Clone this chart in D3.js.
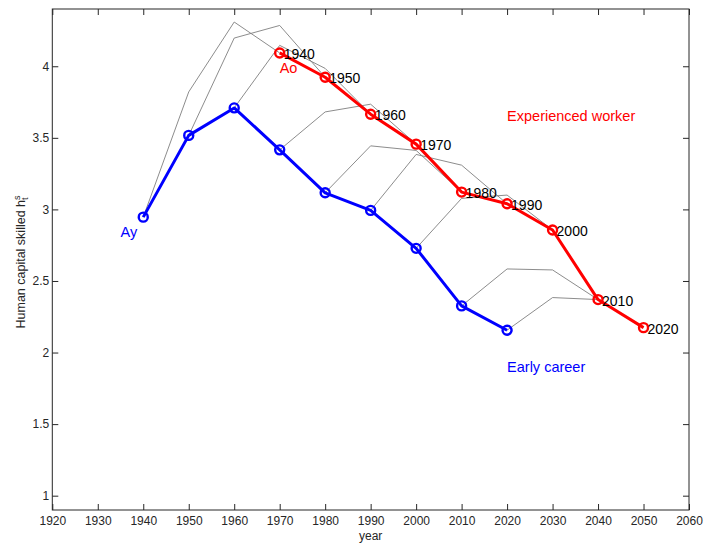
<!DOCTYPE html>
<html>
<head>
<meta charset="utf-8">
<script src="https://cdn.jsdelivr.net/npm/d3@7"></script>
<style>
  html, body { margin: 0; padding: 0; background: #fff; }
  svg { display: block; font-family: "Liberation Sans", Arial, Helvetica, sans-serif; }
</style>
</head>
<body>
<svg id="chart" width="717" height="547"></svg>
<script>
// ---- data ----
const youngYears  = [1940, 1950, 1960, 1970, 1980, 1990, 2000, 2010, 2020];
const youngValues = [2.946, 3.517, 3.709, 3.416, 3.116, 2.993, 2.728, 2.326, 2.156];
const oldYears    = [1970, 1980, 1990, 2000, 2010, 2020, 2030, 2040, 2050];
const oldValues   = [4.093, 3.923, 3.665, 3.456, 3.121, 3.039, 2.856, 2.370, 2.174];
const cohortLabels = ["1940", "1950", "1960", "1970", "1980", "1990", "2000", "2010", "2020"];
// cohort paths: value 10 and 20 years after entry (gray lines)
const midValues1 = [3.821, 4.197, 4.146, 3.681, 3.444, 3.384, 3.077, 2.584, 2.384];
const midValues2 = [4.309, 4.285, 3.985, 3.735, 3.412, 3.309, 3.100, 2.577, 2.370];
const xTicks = [1920, 1930, 1940, 1950, 1960, 1970, 1980, 1990, 2000, 2010, 2020, 2030, 2040, 2050, 2060];
const yTicks = [1, 1.5, 2, 2.5, 3, 3.5, 4];

// ---- layout ----
const L = 52.3, R = 689, T = 9, B = 510;
const axisColor = "#262626";
const svg = d3.select("#chart");
const x = d3.scaleLinear().domain([1920, 2060]).range([L, R]);
const y = d3.scaleLinear().domain([0.9, 4.4]).range([B, T]);

// axes
function styleAxis(g) {
  g.select(".domain").remove();
  g.selectAll(".tick line").attr("stroke", axisColor).attr("stroke-width", 1);
  g.selectAll(".tick text").attr("fill", axisColor).style("font-size", "12px")
    .style("font-family", '"Liberation Sans", Arial, sans-serif');
}
svg.append("g").attr("transform", `translate(0,${B})`)
  .call(d3.axisBottom(x).tickValues(xTicks).tickFormat(d3.format("d")).tickSizeInner(-6).tickSizeOuter(0).tickPadding(6.5))
  .call(styleAxis);
svg.append("g").attr("transform", `translate(0,${T})`)
  .call(d3.axisTop(x).tickValues(xTicks).tickFormat("").tickSizeInner(-6).tickSizeOuter(0))
  .call(styleAxis);
svg.append("g").attr("transform", `translate(${L},0)`)
  .call(d3.axisLeft(y).tickValues(yTicks).tickFormat(d3.format("")).tickSizeInner(-6).tickSizeOuter(0).tickPadding(3))
  .call(styleAxis);
svg.append("g").attr("transform", `translate(${R},0)`)
  .call(d3.axisRight(y).tickValues(yTicks).tickFormat("").tickSizeInner(-6).tickSizeOuter(0))
  .call(styleAxis);
// box
svg.append("rect").attr("x", L).attr("y", T).attr("width", R - L).attr("height", B - T)
  .attr("fill", "none").attr("stroke", axisColor).attr("stroke-width", 1);

// axis labels
svg.append("text").attr("x", (L + R) / 2).attr("y", 540).attr("text-anchor", "middle")
  .attr("fill", axisColor).style("font-size", "12px").text("year");
const yl = svg.append("text").attr("transform", `translate(25,262) rotate(-90)`)
  .attr("text-anchor", "middle").attr("fill", axisColor).style("font-size", "12.5px");
yl.append("tspan").text("Human capital skilled h");
yl.append("tspan").attr("dy", "-5.5").style("font-size", "9px").text("s");
yl.append("tspan").attr("dx", "-4.5").attr("dy", "8.5").style("font-size", "9px").text("t");

// gray cohort paths
const line = d3.line().x(d => x(d[0])).y(d => y(d[1]));
const cohorts = youngYears.map((yr, i) => [
  [yr, youngValues[i]], [yr + 10, midValues1[i]], [yr + 20, midValues2[i]], [oldYears[i], oldValues[i]]
]);
svg.append("g").selectAll("path").data(cohorts).join("path")
  .attr("d", line).attr("fill", "none").attr("stroke", "#7f7f7f").attr("stroke-width", 0.9);

// main series
const youngPts = youngYears.map((yr, i) => [yr, youngValues[i]]);
const oldPts = oldYears.map((yr, i) => [yr, oldValues[i]]);
function series(pts, color) {
  svg.append("path").datum(pts).attr("d", line).attr("fill", "none")
    .attr("stroke", color).attr("stroke-width", 3).attr("stroke-linejoin", "round");
  svg.append("g").selectAll("circle").data(pts).join("circle")
    .attr("cx", d => x(d[0])).attr("cy", d => y(d[1])).attr("r", 4.5)
    .attr("fill", "none").attr("stroke", color).attr("stroke-width", 2.4);
}
series(youngPts, "#0000ff");
series(oldPts, "#ff0000");

// cohort labels next to red points
svg.append("g").selectAll("text").data(oldPts).join("text")
  .attr("x", d => x(d[0]) + 4).attr("y", d => y(d[1]) + 6)
  .attr("fill", "#000").style("font-size", "14px")
  .text((d, i) => cohortLabels[i]);

// annotations
svg.append("text").attr("x", x(1935)).attr("y", y(2.807)).attr("fill", "#0000ff")
  .style("font-size", "14.5px").text("Ay");
svg.append("text").attr("x", x(1970)).attr("y", y(3.951)).attr("fill", "#ff0000")
  .style("font-size", "14.5px").text("Ao");
svg.append("text").attr("x", x(2020)).attr("y", y(3.616)).attr("fill", "#ff0000")
  .style("font-size", "14.5px").text("Experienced worker");
svg.append("text").attr("x", x(2020)).attr("y", y(1.861)).attr("fill", "#0000ff")
  .style("font-size", "14.5px").text("Early career");
</script>
</body>
</html>
